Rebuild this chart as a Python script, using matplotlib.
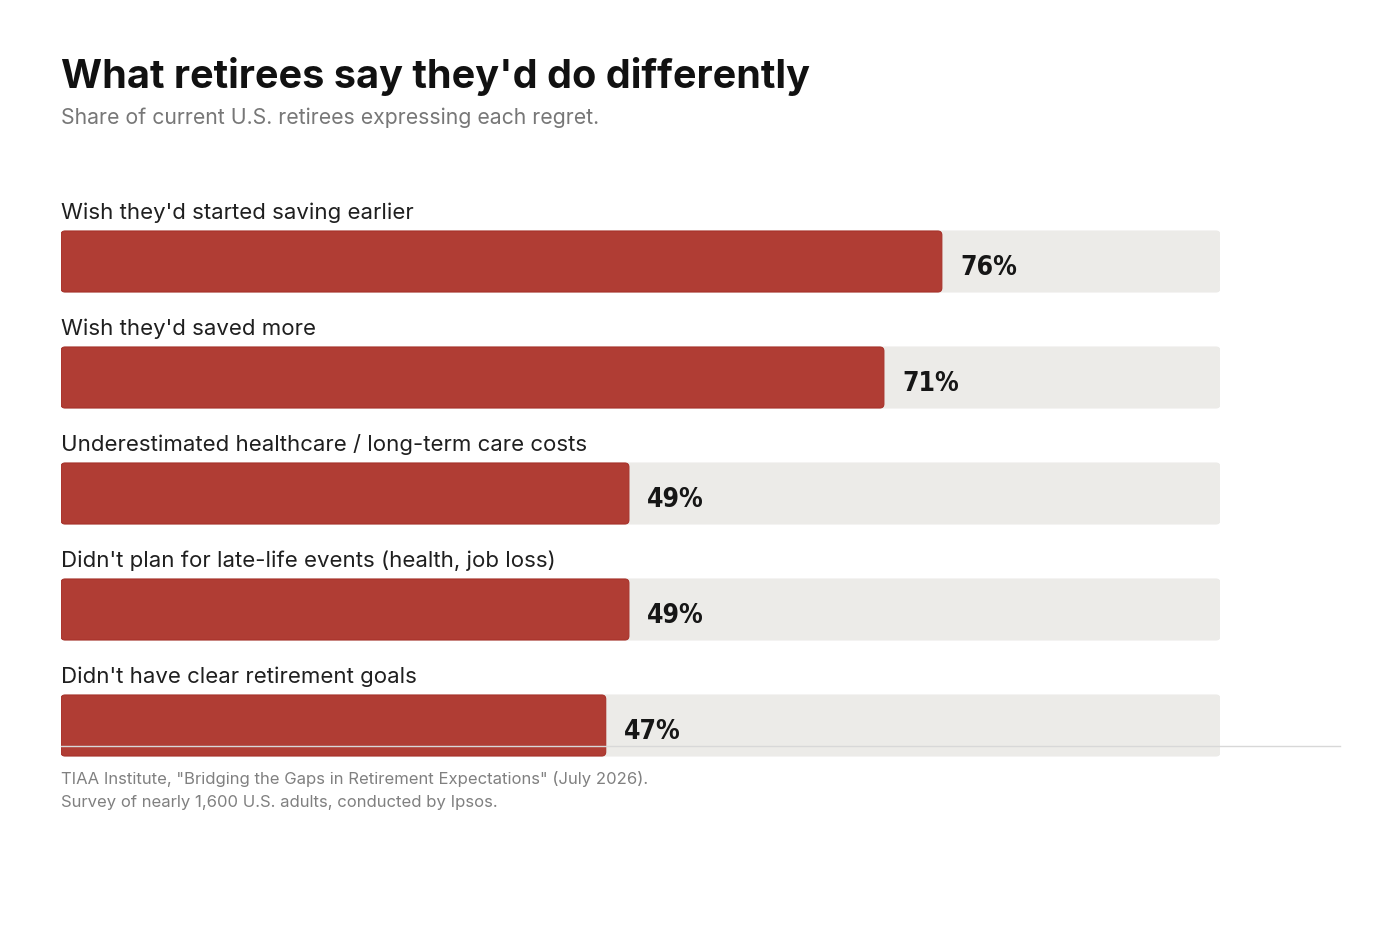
import matplotlib.pyplot as plt
from matplotlib.patches import FancyBboxPatch
from matplotlib.lines import Line2D
from matplotlib import font_manager

# chart data
categories = [
    "Wish they'd started saving earlier",
    "Wish they'd saved more",
    "Underestimated healthcare / long-term care costs",
    "Didn't plan for late-life events (health, job loss)",
    "Didn't have clear retirement goals",
]
shares = [76, 71, 49, 49, 47]
value_labels = ["76%", "71%", "49%", "49%", "47%"]

RED = "#b03d34"
RED_EDGE = "#a8322a"
TRACK = "#ecebe8"

# pick a narrow bold face for the percentages if one is around
names = {f.name for f in font_manager.fontManager.ttflist}
narrow = [n for n in ["Liberation Sans Narrow", "DejaVu Sans Condensed"] if n in names]
val_family = narrow + ["DejaVu Sans"]
val_size = 20 if narrow else 19

W, H = 1400, 933
fig = plt.figure(figsize=(14, 9.33), dpi=100)

# axes placed so that 0..100 spans x 61..1220 px, rows spaced 116 px
ax = fig.add_axes([61 / W, 1 - 841.5 / H, (1220 - 61) / W, (841.5 - 145.5) / H])
ax.set_xlim(0, 100)
ax.set_ylim(5, -1)
ax.axis("off")

bar_h = 61 / 116
rows = list(range(len(categories)))

track = ax.barh(rows, [100] * len(rows), height=bar_h, color="none")
bars = ax.barh(rows, shares, height=bar_h, color="none")


def rounded(rect, face, edge, z):
    p = FancyBboxPatch((rect.get_x(), rect.get_y()), rect.get_width(), rect.get_height(),
                       boxstyle="round,pad=0,rounding_size=0.35", mutation_aspect=0.1,
                       facecolor=face, edgecolor=edge, linewidth=0.8, zorder=z)
    ax.add_patch(p)


for r in track:
    rounded(r, TRACK, TRACK, 1)
for r in bars:
    rounded(r, RED, RED_EDGE, 2)

for i, (cat, v, lab) in enumerate(zip(categories, shares, value_labels)):
    ax.annotate(cat, xy=(0, i - bar_h / 2), xytext=(0, 6), textcoords="offset points",
                ha="left", va="bottom", fontsize=16, color="#1f1f1f", family="Inter")
    ax.annotate(lab, xy=(v, i), xytext=(13, -4.5), textcoords="offset points",
                ha="left", va="center", fontsize=val_size, fontweight="bold",
                color="#161616", family=val_family, fontstretch="condensed")

# thin baseline across the bottom
fig.add_artist(Line2D([61 / W, 1340 / W], [1 - 745.5 / H] * 2, color="#d8d8d8",
                      linewidth=1, zorder=5))

fig.text(61 / W, 1 - 76 / H, "What retirees say they'd do differently", fontsize=28.5,
         fontweight="bold", color="#111111", va="center", family="Inter")
fig.text(61 / W, 1 - 118 / H, "Share of current U.S. retirees expressing each regret.",
         fontsize=15.3, color="#777777", va="center", family="Inter")
fig.text(61 / W, 1 - 779 / H,
         "TIAA Institute, \"Bridging the Gaps in Retirement Expectations\" (July 2026).",
         fontsize=12, color="#808080", va="center", family="Inter")
fig.text(61 / W, 1 - 803 / H, "Survey of nearly 1,600 U.S. adults, conducted by Ipsos.",
         fontsize=12, color="#808080", va="center", family="Inter")

fig.savefig("out.png", dpi=100, facecolor="white")
